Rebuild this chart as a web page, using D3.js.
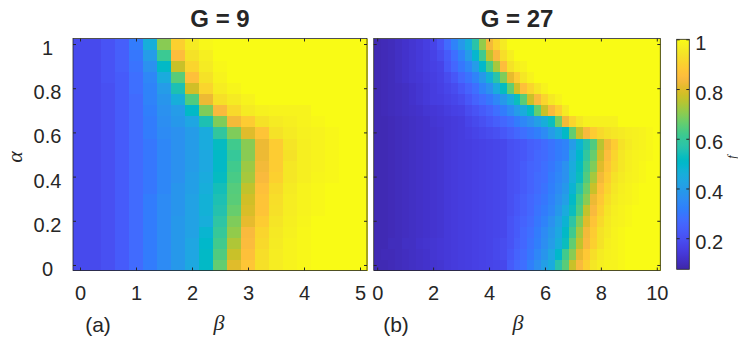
<!DOCTYPE html>
<html><head><meta charset="utf-8">
<script src="https://cdn.jsdelivr.net/npm/d3@7"></script>
<style>
body{margin:0;background:#fff;}
svg text{font-family:"Liberation Sans",Arial,Helvetica,sans-serif;fill:#262626;}
</style></head><body>
<svg id="chart" width="738" height="337"></svg>
<script>
// ---------- data ----------
const betaA = [0,0.25,0.5,0.75,1,1.25,1.5,1.75,2,2.25,2.5,2.75,3,3.25,3.5,3.75,4,4.25,4.5,4.75,5];
const betaB = [0,0.25,0.5,0.75,1,1.25,1.5,1.75,2,2.25,2.5,2.75,3,3.25,3.5,3.75,4,4.25,4.5,4.75,5,
               5.25,5.5,5.75,6,6.25,6.5,6.75,7,7.25,7.5,7.75,8,8.25,8.5,8.75,9,9.25,9.5,9.75,10];
const alphaVals = [0,0.05,0.1,0.15,0.2,0.25,0.3,0.35,0.4,0.45,0.5,0.55,0.6,0.65,0.7,0.75,0.8,0.85,0.9,0.95,1];

// f values, G = 9 (rows: alpha = 0 ... 1, columns: betaA)
const fA = [
[.185,.185,.20,.23,.27,.31,.35,.39,.44,.51,.66,.80,.875,.935,.965,.98,.99,1,1,1,1],
[.185,.185,.20,.23,.27,.31,.35,.39,.43,.51,.64,.77,.86,.93,.965,.98,.99,1,1,1,1],
[.185,.185,.20,.23,.27,.31,.35,.39,.43,.50,.62,.74,.845,.92,.96,.98,.99,1,1,1,1],
[.185,.185,.20,.23,.27,.31,.35,.39,.42,.485,.60,.71,.84,.91,.955,.975,.99,1,1,1,1],
[.185,.185,.20,.23,.27,.31,.35,.39,.42,.46,.58,.69,.81,.89,.945,.97,.985,1,1,1,1],
[.185,.185,.20,.23,.27,.31,.35,.38,.42,.47,.56,.665,.79,.87,.935,.965,.98,.99,1,1,1],
[.185,.185,.20,.23,.27,.31,.35,.38,.42,.47,.55,.65,.78,.87,.93,.965,.98,.99,1,1,1],
[.185,.185,.20,.23,.27,.30,.34,.38,.41,.46,.54,.645,.76,.86,.92,.96,.98,.99,1,1,1],
[.185,.185,.20,.23,.27,.30,.34,.37,.41,.45,.52,.63,.73,.84,.90,.95,.97,.985,.99,1,1],
[.185,.185,.20,.23,.27,.30,.34,.37,.40,.44,.51,.62,.72,.83,.89,.95,.97,.98,.99,1,1],
[.185,.185,.20,.23,.27,.30,.34,.37,.40,.44,.51,.60,.70,.82,.89,.94,.97,.98,.99,1,1],
[.185,.185,.20,.23,.27,.30,.34,.37,.40,.45,.52,.62,.70,.82,.89,.945,.97,.98,.99,1,1],
[.185,.185,.20,.23,.27,.31,.35,.37,.40,.45,.59,.69,.80,.87,.94,.96,.975,.98,.99,1,1],
[.185,.185,.20,.23,.27,.31,.36,.39,.43,.55,.69,.83,.89,.94,.96,.97,.98,.99,1,1,1],
[.185,.185,.20,.23,.27,.32,.37,.40,.51,.69,.84,.92,.96,.975,.98,.98,.98,1,1,1,1],
[.185,.185,.20,.23,.27,.33,.38,.46,.64,.82,.935,.96,.98,1,1,1,1,1,1,1,1],
[.185,.185,.20,.23,.28,.33,.40,.55,.78,.91,.965,.985,1,1,1,1,1,1,1,1,1],
[.185,.185,.21,.23,.28,.34,.45,.65,.86,.94,.98,1,1,1,1,1,1,1,1,1,1],
[.185,.185,.21,.24,.29,.37,.51,.77,.91,.96,.99,1,1,1,1,1,1,1,1,1,1],
[.185,.185,.21,.24,.30,.40,.61,.85,.94,.97,1,1,1,1,1,1,1,1,1,1,1],
[.185,.185,.21,.24,.31,.46,.70,.90,.96,.99,1,1,1,1,1,1,1,1,1,1,1]
];

// f values, G = 27 (rows: alpha = 0 ... 1, columns: betaB)
const fB = [
[.09,.09,.095,.10,.105,.11,.115,.12,.125,.13,.14,.145,.15,.155,.16,.165,.17,.175,.18,.23,.26,.28,.32,.36,.41,.45,.57,.65,.77,.84,.90,.95,.97,.98,.98,.99,1,1,1,1,1],
[.09,.095,.095,.10,.105,.11,.115,.12,.13,.135,.14,.145,.15,.155,.16,.165,.17,.18,.19,.22,.25,.27,.30,.34,.38,.43,.50,.62,.70,.81,.88,.93,.96,.975,.98,.99,1,1,1,1,1],
[.09,.09,.10,.10,.11,.11,.12,.125,.13,.135,.14,.145,.15,.155,.16,.165,.17,.18,.19,.21,.24,.26,.29,.32,.36,.40,.46,.53,.66,.76,.84,.90,.94,.97,.98,.99,1,1,1,1,1],
[.09,.09,.095,.10,.105,.11,.115,.12,.125,.13,.14,.145,.15,.155,.16,.165,.17,.175,.18,.21,.23,.26,.28,.31,.35,.39,.44,.51,.62,.73,.83,.89,.94,.96,.98,.99,1,1,1,1,1],
[.09,.09,.095,.10,.105,.11,.115,.12,.125,.13,.14,.145,.15,.155,.16,.165,.17,.175,.18,.21,.23,.25,.27,.30,.33,.37,.42,.48,.58,.69,.80,.87,.92,.955,.975,.98,.99,1,1,1,1],
[.09,.09,.095,.10,.105,.11,.115,.12,.125,.13,.14,.145,.15,.155,.16,.165,.17,.175,.18,.20,.22,.24,.26,.29,.31,.34,.39,.45,.53,.64,.76,.84,.90,.945,.97,.98,.99,1,1,1,1],
[.09,.09,.095,.10,.105,.11,.115,.12,.125,.13,.14,.145,.15,.155,.16,.165,.17,.175,.18,.20,.22,.24,.26,.28,.30,.33,.37,.41,.51,.62,.70,.82,.88,.93,.96,.975,.98,.99,1,1,1],
[.09,.09,.095,.10,.105,.11,.115,.12,.125,.13,.14,.145,.15,.155,.16,.165,.17,.175,.18,.20,.21,.23,.25,.27,.29,.32,.35,.39,.48,.57,.67,.77,.86,.91,.95,.97,.98,.99,1,1,1],
[.09,.09,.095,.10,.105,.11,.115,.12,.125,.13,.14,.145,.15,.155,.16,.165,.17,.175,.18,.20,.21,.23,.25,.27,.28,.31,.34,.37,.46,.53,.64,.73,.83,.89,.94,.96,.975,.98,.99,1,1],
[.09,.09,.095,.10,.105,.11,.115,.12,.125,.13,.14,.145,.15,.155,.16,.165,.17,.175,.18,.20,.21,.23,.25,.26,.28,.30,.33,.37,.45,.52,.62,.69,.80,.87,.92,.95,.97,.98,.99,1,1],
[.09,.09,.095,.10,.105,.11,.115,.12,.125,.13,.14,.145,.15,.155,.16,.165,.17,.175,.18,.20,.21,.22,.24,.26,.27,.29,.31,.33,.43,.50,.59,.665,.775,.85,.91,.95,.97,.98,.985,.99,1],
[.09,.09,.095,.10,.105,.11,.115,.12,.125,.13,.14,.145,.15,.155,.16,.165,.17,.175,.18,.20,.21,.22,.24,.25,.27,.29,.31,.33,.40,.48,.56,.64,.75,.83,.89,.94,.96,.975,.98,.99,1],
[.09,.09,.095,.10,.105,.11,.115,.12,.125,.13,.14,.145,.15,.16,.17,.18,.19,.20,.22,.24,.26,.28,.30,.32,.35,.40,.45,.51,.66,.77,.84,.89,.92,.94,.95,.96,.97,.975,.98,.99,1],
[.09,.09,.095,.10,.105,.11,.115,.12,.13,.135,.14,.145,.15,.17,.185,.20,.22,.24,.26,.28,.31,.34,.37,.41,.46,.53,.68,.83,.91,.95,.975,.975,.975,.975,.975,1,1,1,1,1,1],
[.09,.095,.10,.105,.11,.115,.12,.13,.135,.14,.15,.16,.165,.19,.21,.23,.25,.28,.31,.35,.40,.45,.52,.66,.77,.84,.90,.96,1,1,1,1,1,1,1,1,1,1,1,1,1],
[.09,.095,.10,.105,.11,.12,.13,.14,.15,.155,.165,.175,.19,.22,.25,.275,.30,.34,.39,.45,.53,.65,.77,.84,.91,.955,.98,1,1,1,1,1,1,1,1,1,1,1,1,1,1],
[.09,.095,.10,.105,.11,.12,.13,.14,.15,.16,.175,.19,.22,.25,.28,.33,.37,.45,.52,.66,.78,.86,.91,.95,.98,1,1,1,1,1,1,1,1,1,1,1,1,1,1,1,1],
[.09,.095,.10,.11,.12,.13,.135,.145,.155,.165,.19,.22,.26,.29,.33,.39,.47,.57,.69,.81,.89,.95,.98,1,1,1,1,1,1,1,1,1,1,1,1,1,1,1,1,1,1],
[.09,.095,.10,.11,.12,.13,.14,.15,.16,.17,.22,.26,.30,.34,.40,.50,.63,.73,.85,.94,.97,.98,1,1,1,1,1,1,1,1,1,1,1,1,1,1,1,1,1,1,1],
[.09,.095,.10,.11,.12,.13,.14,.15,.165,.19,.23,.28,.33,.40,.49,.62,.76,.84,.93,.97,1,1,1,1,1,1,1,1,1,1,1,1,1,1,1,1,1,1,1,1,1],
[.09,.095,.10,.11,.12,.13,.14,.155,.17,.21,.27,.33,.39,.46,.57,.71,.83,.91,.96,1,1,1,1,1,1,1,1,1,1,1,1,1,1,1,1,1,1,1,1,1,1]
];

const xTicksA = [0,1,2,3,4,5];
const xTicksB = [0,2,4,6,8,10];
const yTicks = [0,0.2,0.4,0.6,0.8,1];
const cbTicks = [0.2,0.4,0.6,0.8,1];
const titles = ["G = 9","G = 27"];
const panelTags = ["(a)","(b)"];
const colorLimits = [0.075,1];

// MATLAB parula colormap (64 entries)
const parula = ["#3e26a8","#402ab4","#422ec0","#4332cb","#4537d5","#463cde","#4741e5","#4747eb",
"#484df0","#4852f4","#4758f8","#465efb","#4563fd","#4269fe","#3e6fff","#3875fe",
"#327cfc","#2f81fa","#2e87f7","#2d8cf3","#2b91ef","#2796eb","#259be8","#23a0e5",
"#20a5e3","#1ca9df","#18addb","#12b1d6","#08b5d0","#01b8ca","#02bac3","#0bbdbd",
"#19bfb6","#24c1ae","#2cc4a7","#31c69f","#37c897","#3fca8e","#4acb84","#57cc7a",
"#64cd6f","#72cd64","#81cc59","#8fcb4e","#9dc943","#abc739","#b9c431","#c5c22a",
"#d1bf27","#dcbd29","#e6bb2d","#f0ba36","#f8ba3d","#febe3c","#fec338","#fec934",
"#fccf30","#fad62d","#f7dc2a","#f5e327","#f5e924","#f6ef20","#f7f51b","#f9fb15"];

// ---------- drawing ----------
const svg = d3.select("#chart");
const axisColor = "#262626";
const color = d3.scaleLinear()
  .domain(parula.map((_, i) => colorLimits[0] + (colorLimits[1]-colorLimits[0]) * i / (parula.length-1)))
  .range(parula).clamp(true);

const yScale = d3.scaleLinear().domain([-0.025, 1.025]).range([270.5, 38.5]);

const panels = [
  {beta: betaA, f: fA, xDomain: [-0.125, 5.125], xRange: [73, 367], ticks: xTicksA, title: titles[0], tag: panelTags[0], labelY: true, tagX: 98, betaX: 219},
  {beta: betaB, f: fB, xDomain: [-0.125, 10.125], xRange: [373.7, 660.3], ticks: xTicksB, title: titles[1], tag: panelTags[1], labelY: false, tagX: 396, betaX: 518}
];

panels.forEach(p => {
  const x = d3.scaleLinear().domain(p.xDomain).range(p.xRange);
  const dBeta = p.beta[1] - p.beta[0];
  const dAlpha = alphaVals[1] - alphaVals[0];
  const g = svg.append("g").attr("shape-rendering", "crispEdges");
  const cells = [];
  p.f.forEach((row, i) => row.forEach((v, j) => cells.push({a: alphaVals[i], b: p.beta[j], v})));
  g.selectAll("rect.cell").data(cells).join("rect")
    .attr("class", "cell")
    .attr("x", d => x(d.b - dBeta/2))
    .attr("y", d => yScale(d.a + dAlpha/2))
    .attr("width", x(dBeta) - x(0) + 0.6)
    .attr("height", yScale(0) - yScale(dAlpha) + 0.6)
    .attr("fill", d => color(d.v));

  const [x0, x1] = p.xRange;
  const yTop = yScale.range()[1], yBot = yScale.range()[0];

  // bottom axis with labels
  const ax = svg.append("g").attr("transform", `translate(0,${yBot})`)
    .call(d3.axisBottom(x).tickValues(p.ticks).tickSize(-3).tickSizeOuter(0).tickPadding(15).tickFormat(d3.format("d")));
  ax.select(".domain").remove();
  ax.selectAll("line").attr("stroke", axisColor);
  ax.selectAll("text").attr("font-size", 20).attr("fill", axisColor);
  // top axis
  const axT = svg.append("g").attr("transform", `translate(0,${yTop})`)
    .call(d3.axisTop(x).tickValues(p.ticks).tickSize(-3).tickSizeOuter(0).tickFormat(""));
  axT.select(".domain").remove();
  axT.selectAll("line").attr("stroke", axisColor);
  // left axis
  const axL = svg.append("g").attr("transform", `translate(${x0},0)`)
    .call(d3.axisLeft(yScale).tickValues(yTicks).tickSize(-3).tickSizeOuter(0).tickFormat(p.labelY ? (d => d === 0 || d === 1 ? d3.format("d")(d) : d3.format(".1f")(d)) : ""));
  axL.select(".domain").remove();
  axL.selectAll("line").attr("stroke", axisColor);
  if (p.labelY) {
    axL.selectAll("text").attr("font-size", 20).attr("fill", axisColor)
      .attr("text-anchor", "middle").attr("x", 47.5 - x0).attr("dy", "0.52em");
  }
  // right axis
  const axR = svg.append("g").attr("transform", `translate(${x1},0)`)
    .call(d3.axisRight(yScale).tickValues(yTicks).tickSize(-3).tickSizeOuter(0).tickFormat(""));
  axR.select(".domain").remove();
  axR.selectAll("line").attr("stroke", axisColor);

  // box
  svg.append("rect").attr("x", x0).attr("y", yTop).attr("width", x1 - x0).attr("height", yBot - yTop)
    .attr("fill", "none").attr("stroke", axisColor).attr("stroke-width", 0.8);

  // title
  svg.append("text").attr("x", (x0 + x1) / 2).attr("y", 27).attr("text-anchor", "middle")
    .attr("font-size", 24).attr("font-weight", "bold").attr("fill", "#000").text(p.title);
  // panel tag
  svg.append("text").attr("x", p.tagX).attr("y", 332).attr("text-anchor", "middle")
    .attr("font-size", 21).attr("fill", axisColor).text(p.tag);
  // beta label
  svg.append("text").attr("x", p.betaX).attr("y", 330).attr("text-anchor", "middle")
    .attr("font-size", 22).attr("font-style", "italic")
    .style("font-family", "'Liberation Serif','DejaVu Serif',serif").attr("fill", axisColor).text("β");
});

// alpha label
svg.append("text").attr("transform", "translate(22,157) rotate(-90)").attr("text-anchor", "middle")
  .attr("font-size", 22).attr("font-style", "italic")
  .style("font-family", "'Liberation Serif','DejaVu Serif',serif").attr("fill", axisColor).text("α");

// ---------- colorbar ----------
const cbX0 = 676.7, cbX1 = 689.3, cbTop = 39.3, cbBot = 269.3;
const cScale = d3.scaleLinear().domain(colorLimits).range([cbBot, cbTop]);
const defs = svg.append("defs");
const grad = defs.append("linearGradient").attr("id", "cbgrad").attr("x1", 0).attr("y1", 1).attr("x2", 0).attr("y2", 0);
grad.selectAll("stop").data(parula).join("stop")
  .attr("offset", (d, i) => i / (parula.length - 1)).attr("stop-color", d => d);
svg.append("rect").attr("x", cbX0).attr("y", cbTop).attr("width", cbX1 - cbX0).attr("height", cbBot - cbTop)
  .attr("fill", "url(#cbgrad)");
const cbR = svg.append("g").attr("transform", `translate(${cbX1},0)`)
  .call(d3.axisRight(cScale).tickValues(cbTicks).tickSize(-3).tickSizeOuter(0).tickPadding(6)
    .tickFormat(d => d === 1 ? "1" : d3.format(".1f")(d)));
cbR.select(".domain").remove();
cbR.selectAll("line").attr("stroke", axisColor);
cbR.selectAll("text").attr("font-size", 20).attr("fill", axisColor).attr("dy", "0.5em");
const cbL = svg.append("g").attr("transform", `translate(${cbX0},0)`)
  .call(d3.axisLeft(cScale).tickValues(cbTicks).tickSize(-3).tickSizeOuter(0).tickFormat(""));
cbL.select(".domain").remove();
cbL.selectAll("line").attr("stroke", axisColor);
svg.append("rect").attr("x", cbX0).attr("y", cbTop).attr("width", cbX1 - cbX0).attr("height", cbBot - cbTop)
  .attr("fill", "none").attr("stroke", axisColor).attr("stroke-width", 0.8);
// colorbar label, kept inside the canvas at the right edge
svg.append("text").attr("transform", "translate(736,157) rotate(-90)").attr("text-anchor", "middle")
  .attr("font-size", 12).attr("font-style", "italic")
  .style("font-family", "'Liberation Serif','DejaVu Serif',serif").attr("fill", axisColor).text("f");

// sanity check
fA.forEach((r, i) => { if (r.length !== betaA.length) console.error("fA row", i, r.length); });
fB.forEach((r, i) => { if (r.length !== betaB.length) console.error("fB row", i, r.length); });
</script>
</body></html>
